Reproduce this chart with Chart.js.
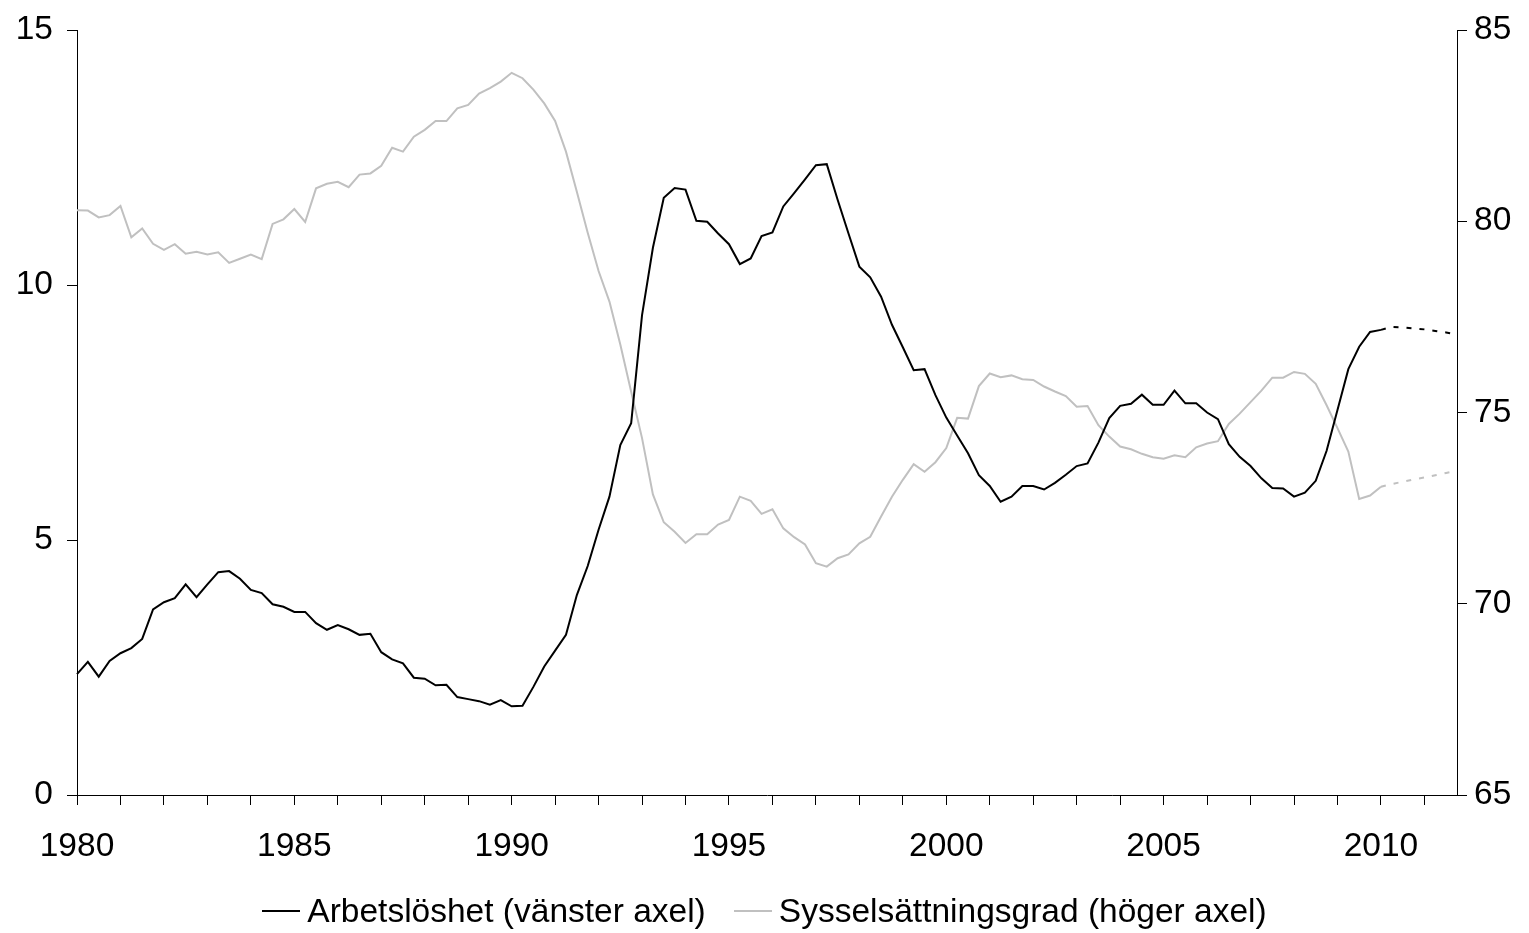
<!DOCTYPE html>
<html lang="sv">
<head>
<meta charset="utf-8">
<title>Arbetslöshet och sysselsättningsgrad</title>
<script src="https://cdn.jsdelivr.net/npm/chart.js@4.4.1/dist/chart.umd.min.js"></script>
<style>
  body { margin: 0; background: #fff; }
  #wrap { position: relative; width: 1529px; height: 933px; }
  .chart-legend {
    position: absolute; left: 0; right: 0; top: 892px;
    display: flex; justify-content: center;
    font: 33.5px "Liberation Sans", Arial, sans-serif; color: #000;
  }
  .legend-item { display: flex; align-items: center; margin: 0 14px; white-space: nowrap; }
  .legend-line { width: 38px; height: 2px; margin-right: 7px; }
</style>
</head>
<body>
<div id="wrap">
  <canvas id="myChart" width="1529" height="933"></canvas>
</div>
<script>
// Quarterly data 1980Q1 - 2011Q4, values from index 120 (2010Q1) on are forecasts
const years = [];
for (let y = 1980; y <= 2011; y++) years.push(y);
const categories = [];
years.forEach(y => { for (let q = 1; q <= 4; q++) categories.push(y + "K" + q); });

const yearLabels = [1980, 1985, 1990, 1995, 2000, 2005, 2010];
const leftTicks = [0, 5, 10, 15];
const rightTicks = [65, 70, 75, 80, 85];
const forecastStart = 120;

// Arbetslöshet, procent (vänster axel)
const unemployment = [
  2.37, 2.61, 2.32, 2.63, 2.78, 2.88, 3.06, 3.64, 3.78, 3.86, 4.13, 3.88, 4.13, 4.37, 4.39, 4.24,
  4.02, 3.96, 3.74, 3.69, 3.59, 3.59, 3.37, 3.24, 3.33, 3.25, 3.14, 3.16, 2.80, 2.66, 2.58, 2.30,
  2.28, 2.15, 2.16, 1.92, 1.88, 1.84, 1.77, 1.86, 1.74, 1.75, 2.12, 2.52, 2.83, 3.14, 3.92, 4.49,
  5.20, 5.85, 6.86, 7.29, 9.41, 10.73, 11.71, 11.90, 11.87, 11.26, 11.24, 11.01, 10.80, 10.41, 10.52, 10.96,
  11.03, 11.54, 11.80, 12.07, 12.35, 12.37, 11.67, 11.01, 10.36, 10.15, 9.77, 9.22, 8.78, 8.33, 8.35, 7.84,
  7.40, 7.05, 6.70, 6.27, 6.06, 5.75, 5.85, 6.06, 6.06, 5.99, 6.12, 6.28, 6.45, 6.50, 6.91, 7.39,
  7.63, 7.67, 7.85, 7.65, 7.65, 7.93, 7.68, 7.68, 7.50, 7.37, 6.88, 6.63, 6.45, 6.21, 6.02, 6.01,
  5.85, 5.93, 6.16, 6.75, 7.55, 8.35, 8.79, 9.08, 9.12, 9.18, 9.17, 9.15, 9.13, 9.10, 9.07, 9.03
];

// Sysselsättningsgrad, procent (höger axel)
const employment = [
  80.29, 80.28, 80.10, 80.16, 80.40, 79.58, 79.81, 79.41, 79.25, 79.40, 79.15, 79.20, 79.13, 79.19, 78.91, 79.02,
  79.13, 79.01, 79.93, 80.05, 80.32, 79.98, 80.86, 80.98, 81.03, 80.89, 81.22, 81.25, 81.45, 81.92, 81.82, 82.21,
  82.39, 82.62, 82.62, 82.95, 83.04, 83.34, 83.48, 83.65, 83.88, 83.74, 83.44, 83.08, 82.62, 81.82, 80.77, 79.70,
  78.70, 77.90, 76.78, 75.54, 74.33, 72.86, 72.13, 71.88, 71.59, 71.82, 71.82, 72.07, 72.19, 72.80, 72.69, 72.35,
  72.47, 71.97, 71.74, 71.55, 71.06, 70.97, 71.19, 71.29, 71.58, 71.75, 72.28, 72.80, 73.24, 73.65, 73.45, 73.70,
  74.07, 74.86, 74.84, 75.69, 76.02, 75.92, 75.97, 75.87, 75.85, 75.68, 75.55, 75.43, 75.15, 75.17, 74.67, 74.37,
  74.11, 74.04, 73.92, 73.83, 73.79, 73.88, 73.83, 74.09, 74.19, 74.25, 74.70, 74.97, 75.27, 75.57, 75.91, 75.91,
  76.06, 76.01, 75.75, 75.19, 74.59, 73.98, 72.74, 72.83, 73.06, 73.13, 73.19, 73.25, 73.30, 73.36, 73.42, 73.48
];

const FONT = "'Liberation Sans', Arial, sans-serif";
const AXIS_COLOR = "#000";
const forecastDash = ctx => ctx.p0DataIndex >= forecastStart ? [5, 8] : undefined;

// fixed axis widths, no extra label padding above/below the plot
const fixWidth = w => scale => {
  scale.width = w;
  scale.paddingTop = 0;
  scale.paddingBottom = 0;
};

const chartCtx = document.getElementById("myChart").getContext("2d");
const chart = new Chart(chartCtx, {
  type: "line",
  data: {
    labels: categories,
    datasets: [
      {
        label: "Arbetslöshet (vänster axel)",
        data: unemployment,
        yAxisID: "yLeft",
        borderColor: "#000",
        borderWidth: 2,
        pointRadius: 0,
        tension: 0,
        segment: { borderDash: forecastDash }
      },
      {
        label: "Sysselsättningsgrad (höger axel)",
        data: employment,
        yAxisID: "yRight",
        borderColor: "#c0c0c0",
        borderWidth: 2,
        pointRadius: 0,
        tension: 0,
        segment: { borderDash: forecastDash }
      }
    ]
  },
  options: {
    responsive: false,
    animation: false,
    layout: { padding: { top: 30, left: 0, right: 0, bottom: 0 } },
    plugins: {
      legend: { display: false },
      tooltip: { enabled: false }
    },
    scales: {
      x: {
        type: "category",
        offset: false,
        border: { display: true, color: AXIS_COLOR, width: 1 },
        grid: {
          drawOnChartArea: false,
          drawTicks: true,
          tickLength: 10,
          color: ctx => (ctx.index % 4 === 0 ? AXIS_COLOR : "rgba(0,0,0,0)")
        },
        ticks: {
          autoSkip: false,
          maxRotation: 0,
          minRotation: 0,
          padding: 22,
          color: "#000",
          font: { family: FONT, size: 33.5 },
          callback: function (val, idx) {
            const lab = categories[idx];
            const year = parseInt(lab, 10);
            return lab.endsWith("K1") && yearLabels.includes(year) ? String(year) : "";
          }
        },
        afterFit: scale => {
          scale.height = 138;
          scale.paddingLeft = 0;
          scale.paddingRight = 0;
        }
      },
      yLeft: {
        position: "left",
        min: 0,
        max: 15,
        border: { display: true, color: AXIS_COLOR, width: 1 },
        grid: { drawOnChartArea: false, drawTicks: true, tickLength: 10, color: AXIS_COLOR },
        afterBuildTicks: scale => { scale.ticks = leftTicks.map(v => ({ value: v })); },
        ticks: {
          padding: 14,
          color: "#000",
          font: { family: FONT, size: 33.5 }
        },
        afterFit: fixWidth(77)
      },
      yRight: {
        position: "right",
        min: 65,
        max: 85,
        border: { display: true, color: AXIS_COLOR, width: 1 },
        grid: { drawOnChartArea: false, drawTicks: true, tickLength: 10, color: AXIS_COLOR },
        afterBuildTicks: scale => { scale.ticks = rightTicks.map(v => ({ value: v })); },
        ticks: {
          padding: 7,
          color: "#000",
          font: { family: FONT, size: 33.5 }
        },
        afterFit: fixWidth(72)
      }
    }
  }
});

// Custom Legend
const wrap = document.getElementById("wrap");
const legend = document.createElement("div");
legend.classList.add("chart-legend");
legend.innerHTML = chart.data.datasets.map(ds => `
  <div class="legend-item"><div class="legend-line" style="background:${ds.borderColor}"></div>${ds.label}</div>
`).join("");
wrap.appendChild(legend);
</script>
</body>
</html>
